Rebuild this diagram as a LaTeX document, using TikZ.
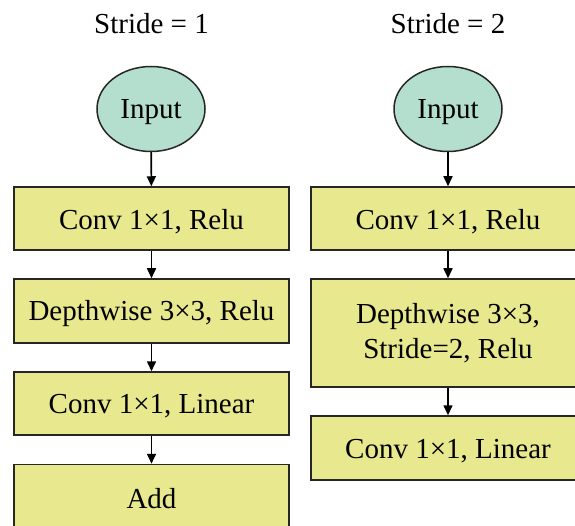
\documentclass[tikz,border=0pt]{standalone}
\usepackage{fontspec}
\setmainfont{Liberation Serif}
\usetikzlibrary{arrows.meta,shapes.geometric}
\definecolor{boxfill}{RGB}{232,232,142}
\definecolor{ellfill}{RGB}{180,222,206}
\newcommand{\lowertext}[1]{\raisebox{-3pt}[\height][\depth]{#1}}
\tikzset{
  layer/.style={draw=black!85, line width=1.5pt, fill=boxfill, rectangle, inner sep=0pt,
    align=center, font=\fontsize{29}{35}\selectfont},
  inputnode/.style={draw=black!85, line width=1.5pt, fill=ellfill, ellipse, inner sep=0pt,
    minimum width=108pt, minimum height=85pt, font=\fontsize{29}{35}\selectfont},
  title/.style={font=\fontsize{29}{35}\selectfont, inner sep=0pt},
  flow/.style={-{Triangle[length=10pt,width=9pt]}, line width=1.6pt, black}
}
\begin{document}
\begin{tikzpicture}[x=1pt,y=-1pt]
\useasboundingbox (0,0) rectangle (575,526);
\clip (0,0) rectangle (575,526);
% left column
\node[title] (t1) at (151.5,24) {Stride = 1};
\node[inputnode] (in1) at (151,109) {\lowertext{Input}};
\node[layer, minimum width=275pt, minimum height=63pt] (a1) at (151.5,218.5) {\lowertext{Conv 1×1, Relu}};
\node[layer, minimum width=275pt, minimum height=64pt] (a2) at (151.5,311) {\lowertext{Depthwise 3×3, Relu}};
\node[layer, minimum width=275pt, minimum height=63pt] (a3) at (151.5,403.5) {\lowertext{Conv 1×1, Linear}};
\node[layer, minimum width=275pt, minimum height=63pt] (a4) at (151.5,496) {\lowertext{Add}};
\draw[flow] (in1) -- (a1);
\draw[flow] (a1) -- (a2);
\draw[flow] (a2) -- (a3);
\draw[flow] (a3) -- (a4);
% right column
\node[title] (t2) at (448,24) {Stride = 2};
\node[inputnode] (in2) at (448,109) {\lowertext{Input}};
\node[layer, minimum width=274pt, minimum height=63pt] (b1) at (448,218.5) {\lowertext{Conv 1×1, Relu}};
\node[layer, minimum width=274pt, minimum height=108pt] (b2) at (448,333) {Depthwise 3×3,\\Stride=2, Relu};
\node[layer, minimum width=274pt, minimum height=64pt] (b3) at (448,448) {\lowertext{Conv 1×1, Linear}};
\draw[flow] (in2) -- (b1);
\draw[flow] (b1) -- (b2);
\draw[flow] (b2) -- (b3);
\end{tikzpicture}
\end{document}
